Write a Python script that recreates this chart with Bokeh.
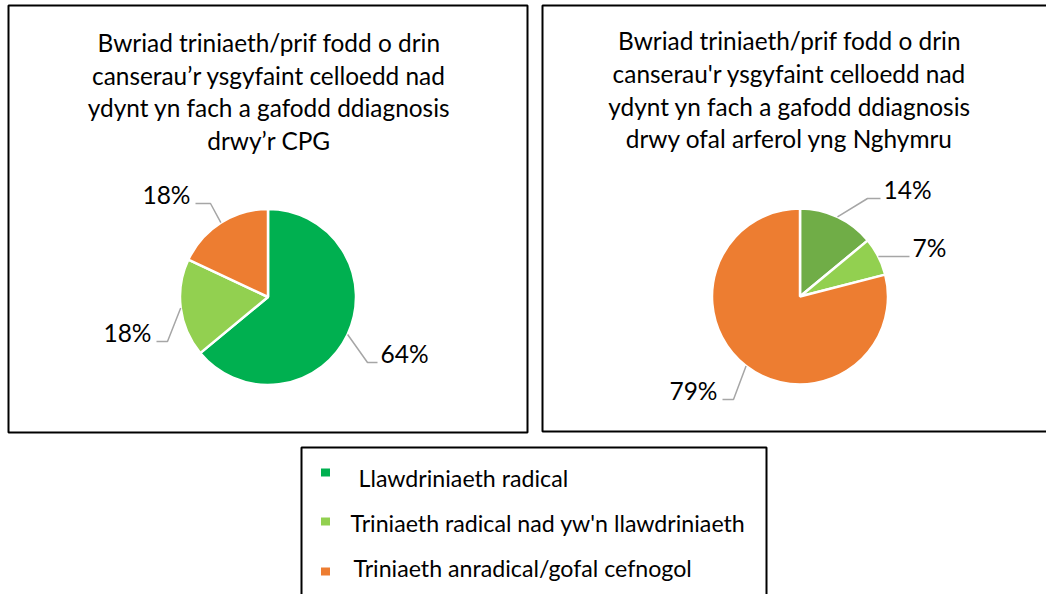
import math
from bokeh.plotting import figure
from bokeh.models import ColumnDataSource, Range1d
from bokeh.core.properties import value
from bokeh.embed import file_html
from bokeh.resources import INLINE

# ---------------- data ----------------
categories = ["Llawdriniaeth radical",
              "Triniaeth radical nad yw'n llawdriniaeth",
              "Triniaeth anradical/gofal cefnogol"]
legend_colors = ["#00B050", "#92D050", "#ED7D31"]

cpg_values = [64, 18, 18]
cpg_colors = ["#00B050", "#92D050", "#ED7D31"]
cpg_title = ["Bwriad triniaeth/prif fodd o drin",
             "canserau\u2019r ysgyfaint celloedd nad",
             "ydynt yn fach a gafodd ddiagnosis",
             "drwy\u2019r CPG"]

wales_values = [14, 7, 79]
wales_colors = ["#70AD47", "#92D050", "#ED7D31"]
wales_title = ["Bwriad triniaeth/prif fodd o drin",
               "canserau'r ysgyfaint celloedd nad",
               "ydynt yn fach a gafodd ddiagnosis",
               "drwy ofal arferol yng Nghymru"]

# ---------------- layout helpers (page pixel -> data) ----------------
W, H = 1046, 594
FONT = value("Lato")
TITLE_SIZE = 24.4
LABEL_SIZE = 24.5
LEGEND_SIZE = 23.2
BASE_SHIFT = 0.39  # em offset so that the given y is the visual baseline


def X(px):
    return px


def Y(py):
    return H - py


def YB(baseline, size):
    return Y(baseline - BASE_SHIFT * size)


p = figure(width=W, height=H, x_range=Range1d(0, W), y_range=Range1d(0, H),
           output_backend="svg", toolbar_location=None, min_border=0,
           x_axis_location=None, y_axis_location=None)
p.grid.visible = False
p.outline_line_color = None
p.background_fill_color = "white"
p.border_fill_color = "white"

# panel frames
p.quad(left=[X(8), X(542), X(301)], right=[X(527), X(1090), X(766)],
       top=[Y(5), Y(5), Y(447)], bottom=[Y(432), Y(431), Y(640)],
       fill_alpha=0, line_color="black", line_width=2)


def add_title(lines, cx, baselines):
    src = ColumnDataSource(dict(x=[X(cx)] * len(lines),
                                y=[YB(b, TITLE_SIZE) for b in baselines], t=lines))
    p.text(x="x", y="y", text="t", source=src, text_font=FONT,
           text_font_size=value(f"{TITLE_SIZE}px"), text_color="#000000",
           text_align="center", text_baseline="alphabetic")


def add_pie(cx, cy, r, values, colors, label_layout):
    total = float(sum(values))
    starts, ends = [], []
    cum = 0.0
    for v in values:
        starts.append(math.pi / 2 - 2 * math.pi * cum / total)
        cum += v
        ends.append(math.pi / 2 - 2 * math.pi * cum / total)
    n = len(values)
    src = ColumnDataSource(dict(x=[X(cx)] * n, y=[Y(cy)] * n, s=starts, e=ends, c=colors))
    p.wedge(x="x", y="y", radius=r, start_angle="s", end_angle="e", direction="clock",
            fill_color="c", line_color="white", line_width=2.5, source=src)

    xs, ys, lx, ly, lt, la = [], [], [], [], [], []
    for v, s, e, (tx, tb, align, elbow) in zip(values, starts, ends, label_layout):
        mid = (s + e) / 2
        ex = X(cx) + r * math.cos(mid)
        ey = Y(cy) + r * math.sin(mid)
        yy = Y(tb - 1)
        endx = X(tx) + 5 if align == "right" else X(tx) - 3
        if elbow is None:
            xs.append([ex, endx])
            ys.append([ey, yy])
        else:
            xs.append([ex, X(elbow), endx])
            ys.append([ey, yy, yy])
        lx.append(X(tx))
        ly.append(YB(tb, LABEL_SIZE))
        lt.append(f"{v}%")
        la.append(align)
    p.multi_line(xs=xs, ys=ys, line_color="#A6A6A6", line_width=1.5)
    lsrc = ColumnDataSource(dict(x=lx, y=ly, t=lt, a=la))
    p.text(x="x", y="y", text="t", text_align="a", source=lsrc, text_font=FONT,
           text_font_size=value(f"{LABEL_SIZE}px"), text_color="#000000",
           text_baseline="alphabetic")


# left panel
add_title(cpg_title, 268.5, [52, 84.5, 117, 150])
add_pie(267.5, 296.5, 88, cpg_values, cpg_colors,
        [(380, 363, "left", 367), (151, 342, "right", 167), (190, 204, "right", 210)])

# right panel
add_title(wales_title, 789, [50, 83, 116, 148])
add_pie(799.5, 296, 88, wales_values, wales_colors,
        [(883, 199, "left", 867), (912, 257, "left", None), (717, 400, "right", 733)])

# legend
leg_text_x = [358, 350, 353]
leg_base = [487, 532, 577]
leg_sq_y = [472, 521, 571]
p.rect(x=[X(325)] * 3, y=[Y(v) for v in leg_sq_y], width=9, height=8,
       fill_color=legend_colors, line_color=None)
p.text(x=[X(v) for v in leg_text_x], y=[YB(v, LEGEND_SIZE) for v in leg_base], text=categories,
       text_font=FONT, text_font_size=value(f"{LEGEND_SIZE}px"), text_color="#000000",
       text_align="left", text_baseline="alphabetic")

open("out.html", "w").write(file_html(p, INLINE))
